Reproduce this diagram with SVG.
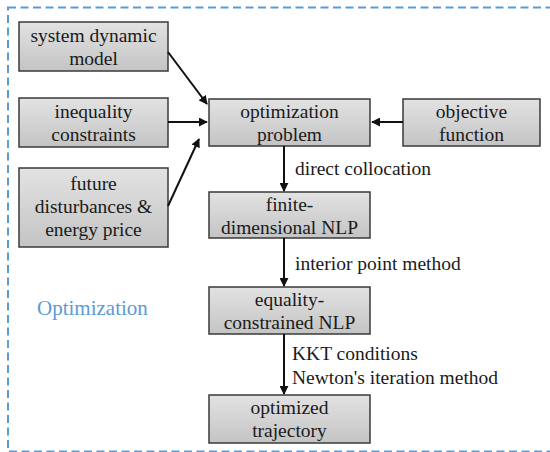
<svg xmlns="http://www.w3.org/2000/svg" width="550" height="452" viewBox="0 0 550 452">
<defs>
<linearGradient id="g" x1="0" y1="0" x2="0" y2="1">
<stop offset="0" stop-color="#e2e2e2"/>
<stop offset="1" stop-color="#c4c4c4"/>
</linearGradient>
<marker id="ah" viewBox="0 0 10 10" refX="9" refY="5" markerWidth="4.5" markerHeight="4.5" orient="auto" markerUnits="strokeWidth">
<path d="M0,0 L10,5 L0,10 z" fill="#111"/>
</marker>
</defs>
<style>
.box{fill:url(#g);stroke:#3a3a3a;stroke-width:1.5}
.t{font-family:'Liberation Serif','Times New Roman',serif;font-size:19.5px;fill:#1a1a1a;text-anchor:middle}
.l{font-family:'Liberation Serif','Times New Roman',serif;font-size:19.5px;fill:#1a1a1a}
.o{font-family:'Liberation Serif','Times New Roman',serif;font-size:21px;fill:#5b9bd5}
.c{stroke:#111;stroke-width:2;fill:none;marker-end:url(#ah)}
</style>
<rect x="8" y="7.5" width="570" height="444" fill="none" stroke="#5b9bd5" stroke-width="2" stroke-dasharray="8,4.5"/>
<text class="o" x="37" y="315">Optimization</text>
<g id="sdm"><rect class="box" x="19" y="22" width="149" height="49"/><text class="t" x="93.5" y="42">system dynamic</text><text class="t" x="93.5" y="65">model</text></g>
<g id="ineq"><rect class="box" x="19" y="98" width="149" height="49"/><text class="t" x="93.5" y="117.5">inequality</text><text class="t" x="93.5" y="141">constraints</text></g>
<g id="future"><rect class="box" x="19" y="168" width="149" height="79"/><text class="t" x="93.5" y="190">future</text><text class="t" x="93.5" y="213">disturbances &amp;</text><text class="t" x="93.5" y="236">energy price</text></g>
<g id="opt"><rect class="box" x="209" y="99" width="161" height="47"/><text class="t" x="289.5" y="118">optimization</text><text class="t" x="289.5" y="141">problem</text></g>
<g id="obj"><rect class="box" x="403" y="99" width="137" height="47"/><text class="t" x="471.5" y="118">objective</text><text class="t" x="471.5" y="141">function</text></g>
<g id="fin"><rect class="box" x="209" y="192" width="161" height="46"/><text class="t" x="289.5" y="211">finite-</text><text class="t" x="289.5" y="234">dimensional NLP</text></g>
<g id="eq"><rect class="box" x="209" y="287" width="161" height="47"/><text class="t" x="289.5" y="306">equality-</text><text class="t" x="289.5" y="329">constrained NLP</text></g>
<g id="traj"><rect class="box" x="209" y="395" width="161" height="48"/><text class="t" x="289.5" y="414">optimized</text><text class="t" x="289.5" y="437">trajectory</text></g>
<g id="connectors">
<line class="c" x1="168" y1="52" x2="207" y2="104"/>
<line class="c" x1="168" y1="122" x2="207" y2="122"/>
<line class="c" x1="168" y1="206" x2="199" y2="139"/>
<line class="c" x1="403" y1="122" x2="372" y2="122"/>
<line class="c" x1="284" y1="146" x2="284" y2="191"/>
<line class="c" x1="284" y1="238" x2="284" y2="286"/>
<line class="c" x1="284" y1="334" x2="284" y2="394"/>
<text class="l" x="295" y="175">direct collocation</text>
<text class="l" x="295" y="270">interior point method</text>
<text class="l" x="292" y="360">KKT conditions</text>
<text class="l" x="292" y="384">Newton's iteration method</text>
</g>
</svg>
